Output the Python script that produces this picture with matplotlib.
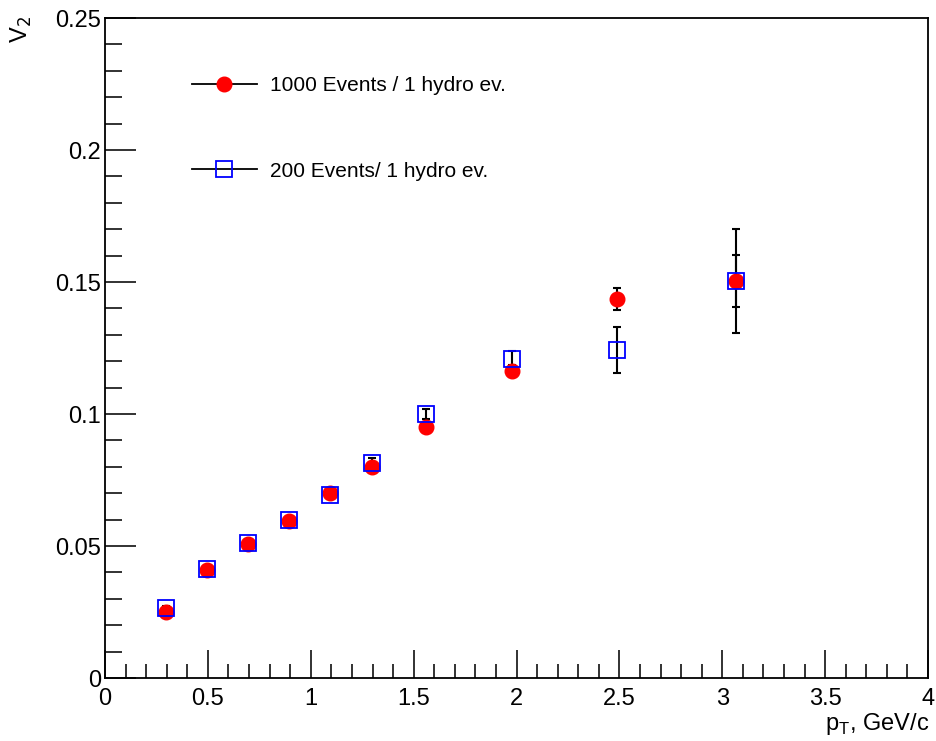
import numpy as np
import matplotlib
matplotlib.use("Agg")
from matplotlib import pyplot as plt
from matplotlib.lines import Line2D

plt.rcParams['font.family'] = ['Liberation Sans', 'DejaVu Sans']

# 1000 events / 1 hydro event
pt_1000 = [0.295, 0.494, 0.695, 0.896, 1.093, 1.296, 1.560, 1.980, 2.486, 3.066]
v2_1000 = [0.0251, 0.0409, 0.0508, 0.0596, 0.0700, 0.0798, 0.0952, 0.1163, 0.1436, 0.1504]
err_1000 = [0.0007, 0.0008, 0.0009, 0.0010, 0.0011, 0.0013, 0.0016, 0.0022, 0.0043, 0.0100]

# 200 events / 1 hydro event
pt_200 = [0.295, 0.494, 0.695, 0.896, 1.093, 1.296, 1.560, 1.980, 2.486, 3.066]
v2_200 = [0.0264, 0.0414, 0.0510, 0.0597, 0.0693, 0.0816, 0.1000, 0.1208, 0.1242, 0.1504]
err_200 = [0.0010, 0.0011, 0.0012, 0.0013, 0.0015, 0.0017, 0.0020, 0.0030, 0.0087, 0.0196]

label_1000 = "1000 Events / 1 hydro ev."
label_200 = "200 Events/ 1 hydro ev."

fig = plt.figure(figsize=(9.36, 7.41), dpi=100)
ax = fig.add_axes([0.1122, 0.085, 0.8793, 0.8907])

# error bars first, markers on top
ax.errorbar(pt_200, v2_200, yerr=err_200, fmt='none', ecolor='black',
            elinewidth=1.5, capsize=3, capthick=1.5, zorder=2)
ax.errorbar(pt_1000, v2_1000, yerr=err_1000, fmt='none', ecolor='black',
            elinewidth=1.5, capsize=3, capthick=1.5, zorder=2)
ax.plot(pt_1000, v2_1000, linestyle='none', marker='o', markersize=10.5,
        color='red', markeredgecolor='red', zorder=3)
ax.plot(pt_200, v2_200, linestyle='none', marker='s', markersize=11,
        markerfacecolor='none', markeredgecolor='blue', markeredgewidth=1.3, zorder=4)

ax.set_xlim(0, 4)
ax.set_ylim(0, 0.25)
ax.set_xticks(np.arange(0, 4.01, 0.5))
ax.set_xticks(np.arange(0, 4.01, 0.1), minor=True)
ax.set_yticks(np.arange(0, 0.251, 0.05))
ax.set_yticks(np.arange(0, 0.251, 0.01), minor=True)
ax.set_xticklabels(['0', '0.5', '1', '1.5', '2', '2.5', '3', '3.5', '4'])
ax.set_yticklabels(['0', '0.05', '0.1', '0.15', '0.2', '0.25'])
ax.tick_params(which='both', direction='in', top=False, right=False,
               labelsize=17, width=1.3, color='#222222')
ax.tick_params(axis='x', which='major', length=20, pad=7)
ax.tick_params(axis='y', which='major', length=22, pad=3)
ax.tick_params(axis='x', which='minor', length=10)
ax.tick_params(axis='y', which='minor', length=12)
for sp in ax.spines.values():
    sp.set_linewidth(1.3)

fig.text(0.023, 0.978, "V$_2$", rotation=90, fontsize=17,
         ha='center', va='top')
fig.text(0.993, 0.006, "p$_\\mathregular{T}$, GeV/c", fontsize=17,
         ha='right', va='bottom')

handles = [
    Line2D([0], [0], color='black', linewidth=1.3, marker='o', markersize=10.5,
           markerfacecolor='red', markeredgecolor='red'),
    Line2D([0], [0], color='black', linewidth=1.3, marker='s', markersize=11,
           markerfacecolor='none', markeredgecolor='blue', markeredgewidth=1.3),
]
ax.legend(handles, [label_1000, label_200], loc='upper left',
          bbox_to_anchor=(192 / 936, 1 - 76 / 741), bbox_transform=fig.transFigure,
          frameon=False, fontsize=15, borderpad=0, borderaxespad=0,
          handlelength=3.1, handletextpad=0.62, labelspacing=3.2)

fig.savefig("out.png", dpi=100)
